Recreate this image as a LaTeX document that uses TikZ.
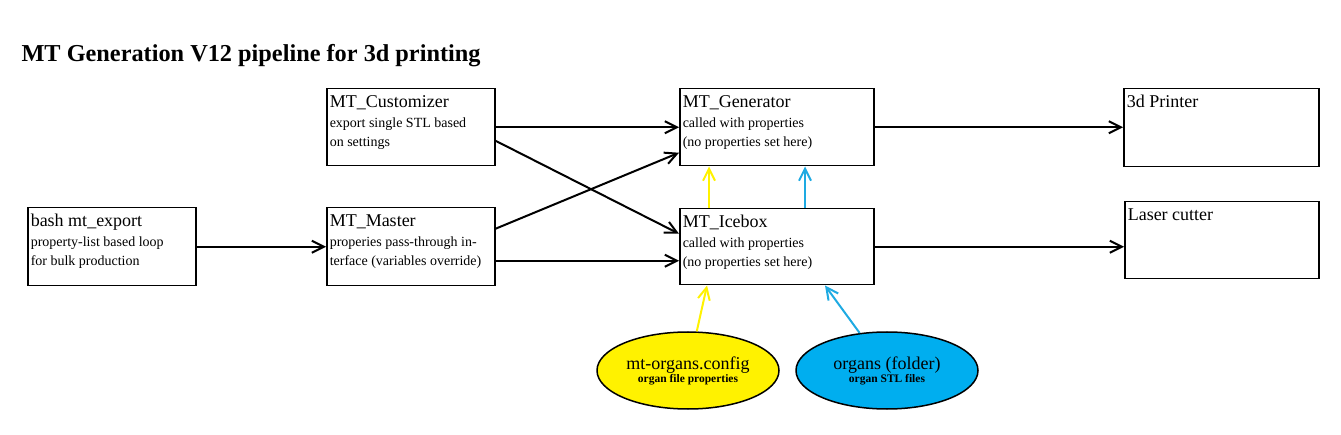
\documentclass[tikz,border=0pt]{standalone}
\usepackage{fontspec}
\setmainfont{Liberation Serif}
\usetikzlibrary{arrows.meta,shapes.geometric}
\definecolor{CfgYellow}{RGB}{255,242,0}
\definecolor{OrgBlue}{RGB}{0,174,239}
\definecolor{LinkBlue}{RGB}{30,170,226}
\newcommand{\mtlabel}[4]{\parbox[t][#2pt][t]{#1pt}{\fontsize{18}{23}\selectfont\strut #3\\\fontsize{14}{19.5}\selectfont #4}}

\begin{document}
\begin{tikzpicture}[x=1pt,y=-1pt,
    box/.style={draw, line width=1.5pt, inner sep=3pt, anchor=north west},
    organ/.style={draw, ellipse, line width=1.5pt, minimum width=182pt, minimum height=77pt, inner sep=0pt, align=center},
    flow/.style={line width=2pt, -{Straight Barb[length=12pt,width=12pt]}}]
    \useasboundingbox (0,0) rectangle (1341,435);
    \node[anchor=base west, font=\fontsize{24.3}{28}\selectfont\bfseries] (title) at (18,62) {MT Generation V12 pipeline for 3d printing};
    \node[box] (bash) at (27,207) {\mtlabel{162}{72}{bash mt\_export}{property-list based loop\\for bulk production}};
    \node[box] (cust) at (326,88) {\mtlabel{162}{71}{MT\_Customizer}{export single STL based\\on settings}};
    \node[box] (mas) at (326,207) {\mtlabel{162}{72}{MT\_Master}{properies pass-through in-\\terface (variables override)}};
    \node[box] (gen) at (679,88) {\mtlabel{188}{71}{MT\_Generator}{called with properties\\(no properties set here)}};
    \node[box] (ice) at (679,208) {\mtlabel{188}{70}{MT\_Icebox}{called with properties\\(no properties set here)}};
    \node[box] (prn) at (1123,88) {\mtlabel{189}{72}{3d Printer}{}};
    \node[box] (las) at (1124,201) {\mtlabel{188}{71}{Laser cutter}{}};
    \node[organ, fill=CfgYellow] (cfg) at (688,370.5) {\fontsize{18}{20}\selectfont mt-organs.config\\[1pt]\fontsize{11.5}{14}\selectfont\bfseries organ file properties};
    \node[organ, fill=OrgBlue] (org) at (887,370.5) {\fontsize{18}{20}\selectfont organs (folder)\\[1pt]\fontsize{11.5}{14}\selectfont\bfseries organ STL files};
    \draw[flow] (bash) -- (mas);
    \draw[flow] (cust) -- (gen);
    \draw[flow] ([yshift=-13.5pt]cust.east) -- ([yshift=13pt]ice.west);
    \draw[flow] ([yshift=18pt]mas.east) -- ([yshift=-25.5pt]gen.west);
    \draw[flow] ([yshift=-14pt]mas.east) -- ([yshift=-14pt]mas.east -| ice.west);
    \draw[flow] (gen.east) -- (gen.east -| prn.west);
    \draw[flow] (ice.east) -- (ice.east -| las.west);
    \draw[flow, CfgYellow] ([xshift=30pt]ice.north west) -- ([xshift=30pt]gen.south west);
    \draw[flow, LinkBlue] ([xshift=126pt]ice.north west) -- ([xshift=126pt]gen.south west);
    \draw[flow, CfgYellow] (cfg) -- ([xshift=28pt]ice.south west);
    \draw[flow, LinkBlue] (org) -- ([xshift=146pt]ice.south west);
\end{tikzpicture}
\end{document}
